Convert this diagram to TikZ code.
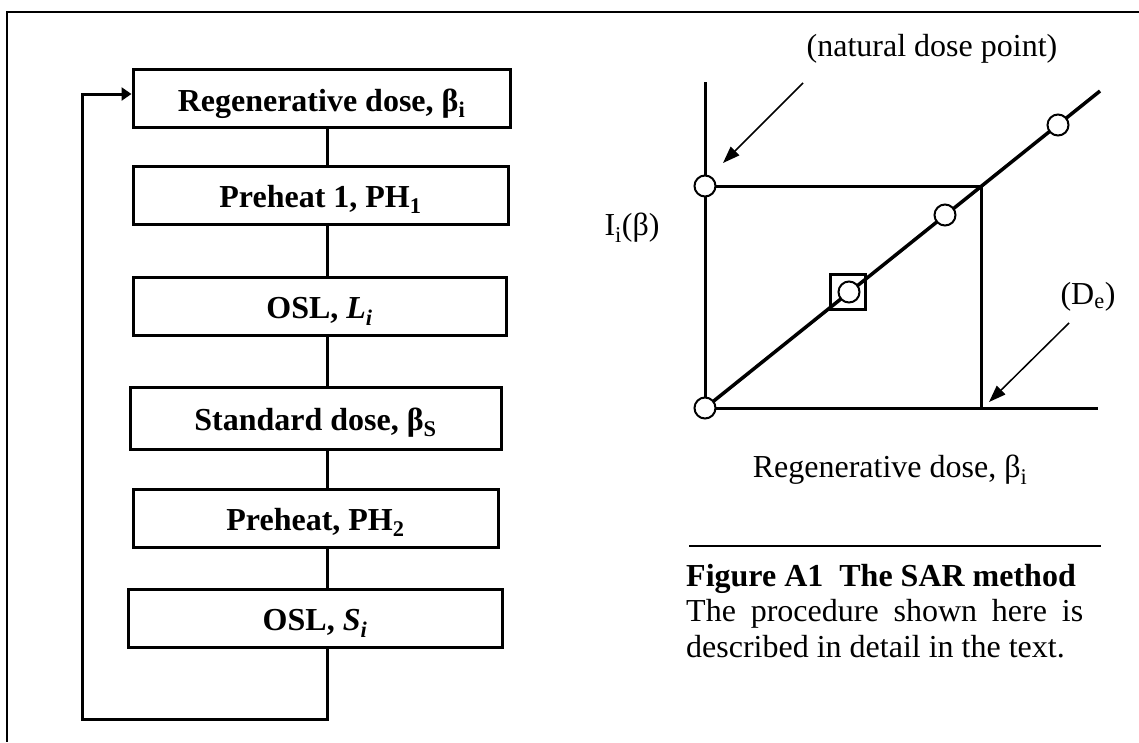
\documentclass[tikz,border=0pt]{standalone}
\usepackage{fontspec}
\setmainfont{Liberation Serif}
\usetikzlibrary{arrows.meta}

\begin{document}
\begin{tikzpicture}[x=1pt,y=-1pt,font=\fontsize{32}{35.5}\selectfont]
  \tikzstyle{BoxStyle}=[draw,line width=3pt,font=\fontsize{32}{35.5}\selectfont\bfseries,
                        minimum height=58pt,text height=25pt,text depth=0pt,inner sep=0pt]
  \tikzstyle{EdgeStyle}=[line width=3pt]
  \tikzstyle{LoopStyle}=[line width=3pt,-{Triangle[length=10pt,width=13pt]}]
  \tikzstyle{AxisStyle}=[line width=3pt]
  \tikzstyle{PointStyle}=[circle,draw,fill=white,line width=2pt,minimum size=21pt,inner sep=0pt]
  \tikzstyle{ArrowStyle}=[line width=1.5pt,-{Triangle[length=17pt,width=12pt]}]
  \useasboundingbox (0,0) rectangle (1139,742);
  % frame
  \draw[line width=1.7pt] (1139,12) -- (7,12) -- (7,742);
  % flow chart
  \node[BoxStyle,minimum width=377pt] (regen) at (321.5,98.5) {Regenerative dose, β\textsubscript{i}};
  \node[BoxStyle,minimum width=375pt] (pre1) at (320.5,195) {Preheat 1, PH\textsubscript{1}};
  \node[BoxStyle,minimum width=373pt] (oslL) at (319.5,306) {OSL, \textit{L\textsubscript{i}}};
  \node[BoxStyle,minimum width=371pt,minimum height=62pt] (stdd) at (315.5,418) {Standard dose, β\textsubscript{S}};
  \node[BoxStyle,minimum width=365pt] (pre2) at (315.5,518) {Preheat, PH\textsubscript{2}};
  \node[BoxStyle,minimum width=374pt] (oslS) at (315,618) {OSL, \textit{S\textsubscript{i}}};
  \coordinate (spine) at (327,0);
  \draw[EdgeStyle] (regen.south -| spine) -- (pre1.north -| spine);
  \draw[EdgeStyle] (pre1.south -| spine) -- (oslL.north -| spine);
  \draw[EdgeStyle] (oslL.south -| spine) -- (stdd.north -| spine);
  \draw[EdgeStyle] (stdd.south -| spine) -- (pre2.north -| spine);
  \draw[EdgeStyle] (pre2.south -| spine) -- (oslS.north -| spine);
  % loop back
  \coordinate (loopB) at (82,719);
  \coordinate (loopT) at (82,94);
  \draw[LoopStyle] (oslS.south -| spine) |- (loopB) -- (loopT) -- (regen.west |- loopT);
  % growth curve
  \coordinate (O) at (705,408);
  \coordinate (Ytop) at (705,82);
  \coordinate (Xend) at (1098,408);
  \coordinate (Dtop) at (1100,91);
  \coordinate (N) at (705,186);
  \coordinate (X) at (981,186);
  \draw[AxisStyle] (Ytop) -- (O) -- (Xend);
  \draw[AxisStyle] (N) -- (X) -- (X |- O);
  \draw[AxisStyle,line width=3.5pt] (O) -- (Dtop);
  \node[draw,line width=3.5pt,minimum size=35pt,inner sep=0pt] (sq) at (848,292) {};
  \node[PointStyle] (p0) at (O) {};
  \node[PointStyle] (pN) at (N) {};
  \node[PointStyle] (p1) at (849,292) {};
  \node[PointStyle] (p2) at (945,215) {};
  \node[PointStyle] (p3) at (1058,125) {};
  % labels
  \node (natl) at (932,49) {(natural dose point)};
  \coordinate (natA) at (803,83);
  \coordinate (natT) at (723,163);
  \draw[ArrowStyle] (natA) -- (natT);
  \node (Il) at (632,228) {I\textsubscript{i}(β)};
  \node (Del) at (1088,297) {(D\textsubscript{e})};
  \coordinate (deA) at (1069,323);
  \coordinate (deT) at (989,402);
  \draw[ArrowStyle] (deA) -- (deT);
  \node (xlab) at (890,470) {Regenerative dose, β\textsubscript{i}};
  % caption
  \draw[line width=2.5pt] (689,546) -- (1101,546);
  \node[anchor=north west,text width=397pt,align=justify,inner sep=0pt] (cap) at (686,564)
    {\textbf{Figure A1\ \ The SAR method}\\The procedure shown here is\linebreak described in detail in the text.};
\end{tikzpicture}
\end{document}
